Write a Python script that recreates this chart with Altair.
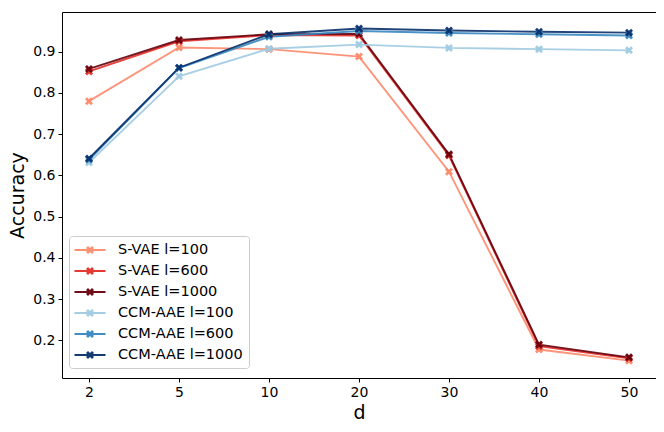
import altair as alt
import pandas as pd

d_values = ["2", "5", "10", "20", "30", "40", "50"]
series_names = ["S-VAE l=100", "S-VAE l=600", "S-VAE l=1000",
                "CCM-AAE l=100", "CCM-AAE l=600", "CCM-AAE l=1000"]
svae_100 = [0.780, 0.910, 0.906, 0.888, 0.609, 0.178, 0.151]
svae_600 = [0.852, 0.925, 0.940, 0.939, 0.648, 0.186, 0.157]
svae_1000 = [0.858, 0.928, 0.942, 0.943, 0.651, 0.190, 0.159]
ccm_100 = [0.631, 0.840, 0.907, 0.917, 0.909, 0.906, 0.903]
ccm_600 = [0.638, 0.860, 0.936, 0.950, 0.945, 0.942, 0.939]
ccm_1000 = [0.641, 0.861, 0.942, 0.956, 0.951, 0.948, 0.946]
series_colors = ["#fc8a6a", "#e32f27", "#67000d", "#9ecae1", "#3787c0", "#08306b"]

all_vals = [svae_100, svae_600, svae_1000, ccm_100, ccm_600, ccm_1000]
rows = []
for name, vals in zip(series_names, all_vals):
    for d, v in zip(d_values, vals):
        rows.append({"d": d, "acc": v, "series": name})
df = pd.DataFrame(rows)

# filled fat "X" marker path in unit coordinates
X_PTS = [(-1, -0.5), (-0.5, -1), (0, -0.5), (0.5, -1), (1, -0.5), (0.5, 0),
         (1, 0.5), (0.5, 1), (0, 0.5), (-0.5, 1), (-1, 0.5), (-0.5, 0)]


def xpath(s):
    pts = [(x * s, y * s) for x, y in X_PTS]
    return "M" + "L".join(f"{x:.3f},{y:.3f}" for x, y in pts) + "Z"


marker_path = xpath(1.0)
L = 1.94
T = 0.11
legend_path = (f"M{-L},{-T}L{L},{-T}L{L},{T}L{-L},{T}Z" + xpath(0.5))

x_enc = alt.X("d:N", sort=d_values, title="d",
              scale=alt.Scale(type="point", padding=0.3),
              axis=alt.Axis(labelAngle=0))
y_enc = alt.Y("acc:Q", title="Accuracy",
              scale=alt.Scale(domain=[0.109, 0.996], nice=False, zero=False),
              axis=alt.Axis(values=[0.2, 0.3, 0.4, 0.5, 0.6, 0.7, 0.8, 0.9], format=".1f"))
color_scale = alt.Scale(domain=series_names, range=series_colors)

lines = alt.Chart(df).mark_line(strokeWidth=1.9, opacity=0.9).encode(
    x=x_enc, y=y_enc,
    color=alt.Color("series:N", scale=color_scale, legend=None, sort=series_names),
)
points = alt.Chart(df).mark_point(filled=True, shape=marker_path, size=64, opacity=0.95).encode(
    x=x_enc, y=y_enc,
    color=alt.Color("series:N", scale=color_scale, sort=series_names,
                    legend=alt.Legend(title=None, orient="none", legendX=7, legendY=224,
                                      symbolType=legend_path, symbolSize=256,
                                      symbolStrokeWidth=0, symbolOffset=7,
                                      labelOffset=20, rowPadding=6, padding=6,
                                      labelFontSize=14.5, labelFont="DejaVu Sans",
                                      labelColor="black",
                                      fillColor="rgba(255,255,255,0.8)",
                                      strokeColor="#cccccc", cornerRadius=3)),
)

chart = alt.layer(lines, points).resolve_legend(color="independent").properties(
    width=594, height=366,
    autosize=alt.AutoSizeParams(type="none"),
    padding={"left": 54, "top": 4, "right": 0, "bottom": 46},
).configure_view(stroke="black", strokeWidth=1).configure_axis(
    grid=False, domain=False, labelFont="DejaVu Sans", titleFont="DejaVu Sans",
    labelFontSize=14, titleFontSize=19, titleFontWeight="normal",
    labelColor="black", titleColor="black", tickColor="black",
    tickSize=4, tickWidth=1,
).configure_axisX(labelPadding=3, titlePadding=4).configure_axisY(
    labelPadding=3, titlePadding=5)

chart.save("out.html", embed_options={"renderer": "svg", "actions": False})
